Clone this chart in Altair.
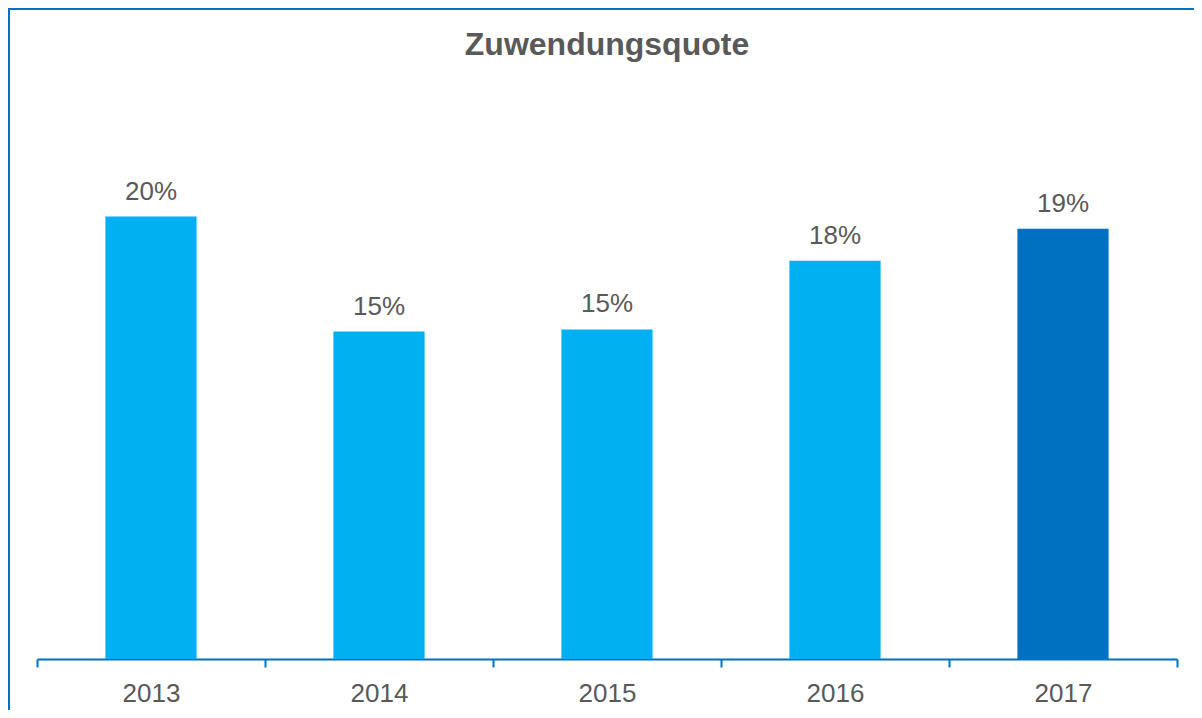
import altair as alt
import pandas as pd

years = ["2013", "2014", "2015", "2016", "2017"]
quote = [0.200, 0.148, 0.149, 0.180, 0.1945]
groups = ["past", "past", "past", "past", "current"]

df = pd.DataFrame({"Jahr": years, "Quote": quote, "Gruppe": groups})

FONT = "Liberation Sans"
GRAY = "#595959"
BLUE = "#0070C0"

x = alt.X("Jahr:N", sort=years, title=None,
          scale=alt.Scale(paddingInner=0, paddingOuter=0),
          axis=alt.Axis(labelAngle=0, labelFont=FONT, labelFontSize=26, labelColor=GRAY,
                        domainColor=BLUE, domainWidth=2, tickColor=BLUE, tickWidth=2,
                        tickSize=8, tickBand="extent", labelPadding=34,
                        labelBaseline="alphabetic", grid=False))
y = alt.Y("Quote:Q", title=None, scale=alt.Scale(domain=[0, 0.25], nice=False, zero=True),
          axis=None)

bars = alt.Chart(df).mark_bar(width=alt.RelativeBandSize(0.4)).encode(
    x=x, y=y,
    color=alt.Color("Gruppe:N", scale=alt.Scale(domain=["past", "current"],
                                                range=["#00B0F0", "#0070C0"]), legend=None),
)

labels = alt.Chart(df).mark_text(font=FONT, fontSize=26, color=GRAY, baseline="alphabetic", dy=-17).encode(
    x=x, y=y, text=alt.Text("Quote:Q", format=".0%"),
)

border_left = alt.Chart(df).mark_rule(color=BLUE, strokeWidth=2).encode(
    x=alt.value(-28), y=alt.value(-98), y2=alt.value(620))
border_top = alt.Chart(df).mark_rule(color=BLUE, strokeWidth=2).encode(
    x=alt.value(-29), x2=alt.value(1160), y=alt.value(-97))

chart = alt.layer(bars, labels, border_left, border_top).properties(
    width=1140, height=553,
    title=alt.TitleParams("Zuwendungsquote", font=FONT, fontSize=32, fontWeight="bold",
                          color=GRAY, anchor="middle", frame="group", offset=0,
                          baseline="alphabetic", dy=80),
    autosize=alt.AutoSizeParams(type="none"),
    padding={"left": 29, "top": 98, "right": 17, "bottom": 51},
).configure_view(stroke=None)

chart.save("out.html", embed_options={"renderer": "svg", "actions": False})
